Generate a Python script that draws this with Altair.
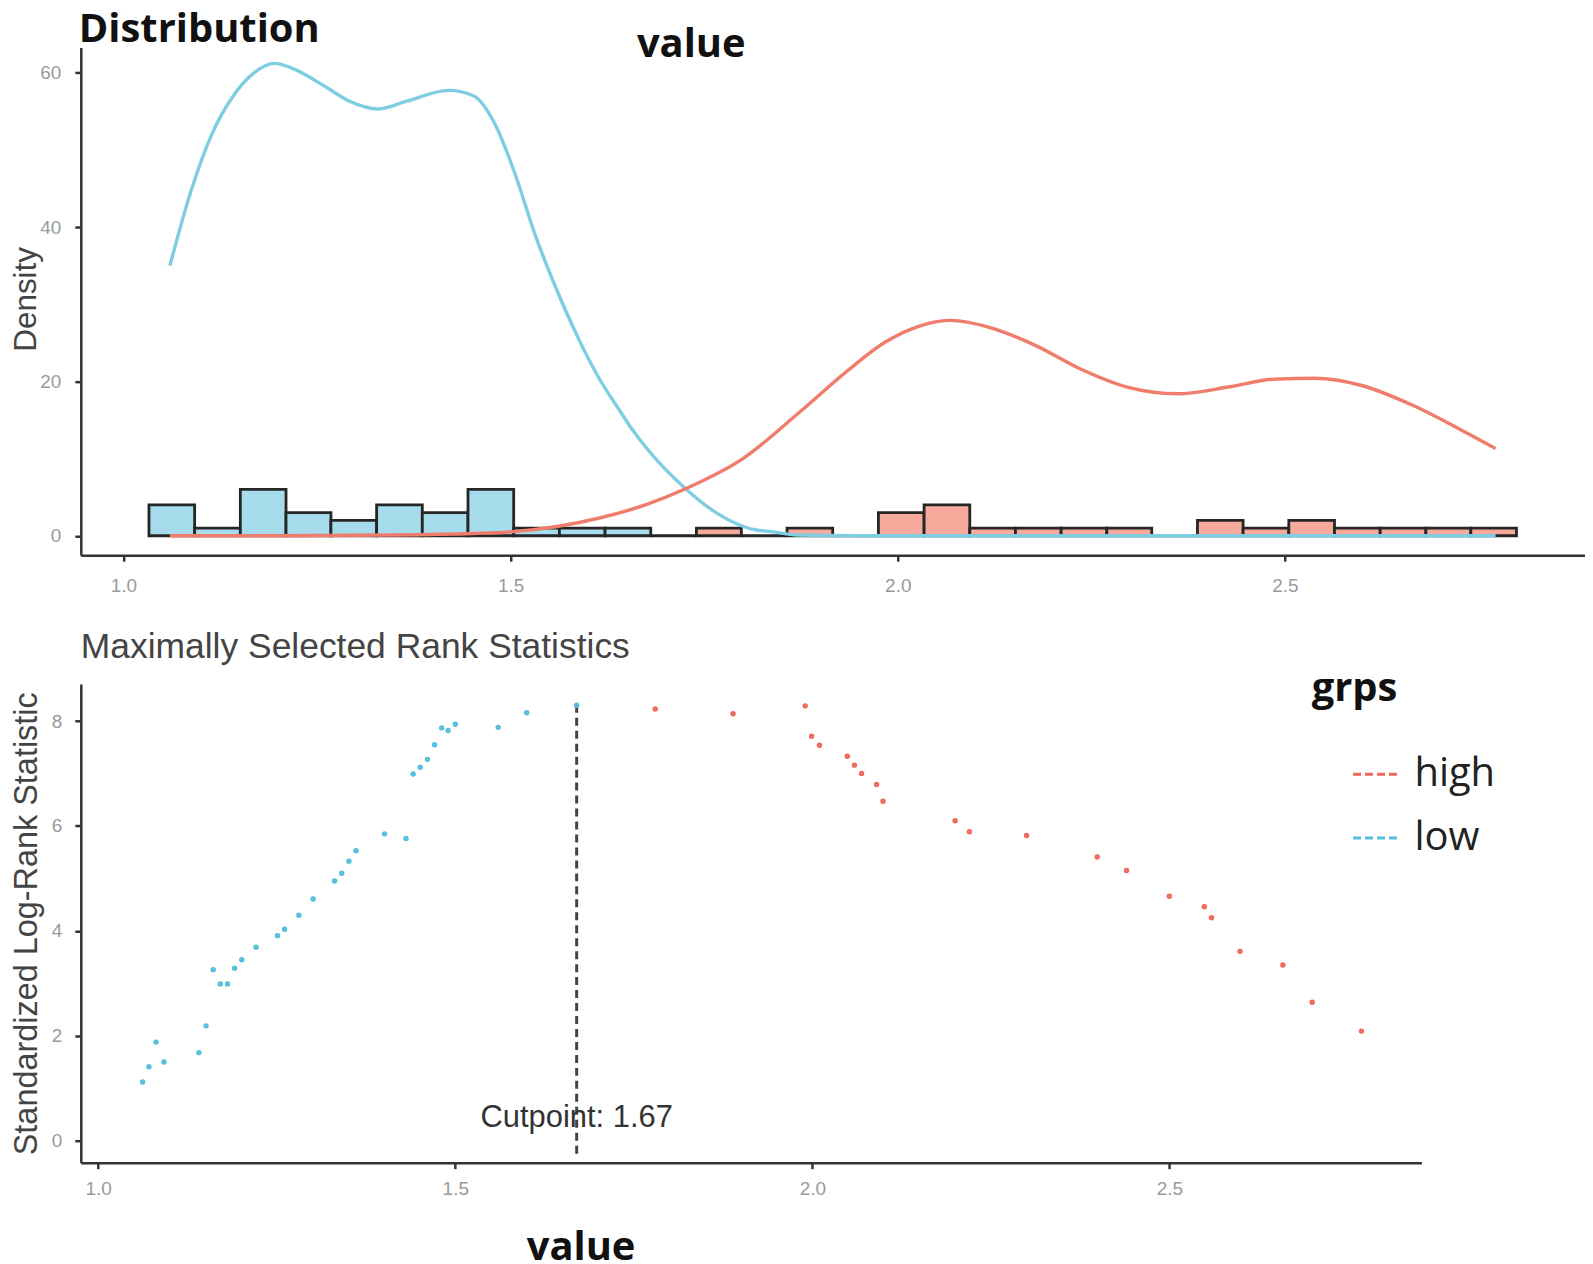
import altair as alt
import pandas as pd

# ---------------- data ----------------
groups = ["high", "low"]

# histogram (top panel)
bin_edges = [1.033, 1.092, 1.151, 1.210, 1.268, 1.327, 1.386, 1.445, 1.504, 1.563,
             1.622, 1.681, 1.740, 1.798, 1.857, 1.916, 1.975, 2.034, 2.093, 2.152,
             2.211, 2.270, 2.328, 2.387, 2.446, 2.505, 2.564, 2.623, 2.682, 2.740, 2.799]
bin_counts = [4, 1, 6, 3, 2, 4, 3, 6, 1, 1, 1, 0, 1, 0, 1, 0, 3, 4, 1, 1,
              1, 1, 0, 2, 1, 2, 1, 1, 1, 1]
bin_groups = ["low"] * 11 + ["high"] * 19

# density curves (top panel)
low_dens_x = [1.060, 1.088, 1.115, 1.142, 1.169, 1.195, 1.222, 1.259, 1.292, 1.329,
              1.366, 1.420, 1.452, 1.479, 1.505, 1.532, 1.559, 1.586, 1.612, 1.639,
              1.659, 1.676, 1.726, 1.770, 1.810, 1.840, 1.870, 1.950, 2.200, 2.500, 2.772]
low_dens_y = [35.0, 44.9, 52.2, 57.0, 60.0, 61.2, 60.4, 58.3, 56.3, 55.3,
              56.3, 57.7, 57.0, 53.5, 47.1, 38.9, 32.0, 25.9, 20.8, 16.5,
              13.5, 11.3, 6.1, 2.7, 0.9, 0.5, 0.1, 0.0, 0.0, 0.0, 0.0]
high_dens_x = [1.060, 1.200, 1.350, 1.450, 1.500, 1.560, 1.615, 1.674, 1.726, 1.800,
               1.873, 1.933, 1.984, 2.029, 2.069, 2.118, 2.177, 2.236, 2.295, 2.362,
               2.428, 2.487, 2.539, 2.598, 2.665, 2.724, 2.772]
high_dens_y = [0.0, 0.0, 0.1, 0.3, 0.5, 1.2, 2.3, 4.0, 6.1, 10.0,
               16.0, 21.2, 25.1, 27.2, 27.9, 27.0, 24.7, 21.6, 19.3, 18.4,
               19.3, 20.3, 20.4, 19.5, 16.9, 13.9, 11.3]

# maximally selected rank statistics (bottom panel)
low_pts_x = [1.062, 1.071, 1.081, 1.092, 1.141, 1.151, 1.161, 1.171, 1.181, 1.191,
             1.201, 1.221, 1.251, 1.261, 1.281, 1.301, 1.331, 1.341, 1.351, 1.361,
             1.401, 1.431, 1.441, 1.451, 1.461, 1.471, 1.481, 1.490, 1.500, 1.560,
             1.600, 1.670]
low_pts_s = [1.12, 1.41, 1.88, 1.50, 1.68, 2.19, 3.26, 2.99, 2.99, 3.29,
             3.45, 3.69, 3.91, 4.03, 4.30, 4.61, 4.95, 5.10, 5.33, 5.53,
             5.85, 5.76, 6.99, 7.12, 7.27, 7.55, 7.87, 7.82, 7.94, 7.88,
             8.16, 8.30]
high_pts_x = [1.780, 1.889, 1.990, 1.999, 2.010, 2.049, 2.059, 2.069, 2.090, 2.099,
              2.200, 2.220, 2.300, 2.399, 2.440, 2.500, 2.549, 2.559, 2.599, 2.659,
              2.700, 2.769]
high_pts_s = [8.23, 8.14, 8.29, 7.71, 7.54, 7.33, 7.16, 7.00, 6.79, 6.47,
              6.10, 5.89, 5.82, 5.41, 5.15, 4.66, 4.46, 4.25, 3.61, 3.35,
              2.64, 2.09]

cutpoint = 1.67
cut_top = 8.31
cut_bottom = -0.25

x_ticks = [1.0, 1.5, 2.0, 2.5]
dens_ticks = [0, 20, 40, 60]
stat_ticks = [0, 2, 4, 6, 8]

# ---------------- tables ----------------
hist = pd.DataFrame({
    "x": bin_edges[:-1], "x2": bin_edges[1:], "count": bin_counts,
    "base": [0] * len(bin_counts), "grp": bin_groups,
})
dens = pd.concat([
    pd.DataFrame({"x": low_dens_x, "d": low_dens_y, "grp": "low"}),
    pd.DataFrame({"x": high_dens_x, "d": high_dens_y, "grp": "high"}),
])
pts = pd.concat([
    pd.DataFrame({"x": high_pts_x, "s": high_pts_s, "grp": "high"}),
    pd.DataFrame({"x": low_pts_x, "s": low_pts_s, "grp": "low"}),
])
cut = pd.DataFrame({"x": [cutpoint], "y": [cut_top], "y2": [cut_bottom],
                    "ty": [0.44], "label": ["Cutpoint: 1.67"]})

# ---------------- styles ----------------
SANS = "Liberation Sans"
HEAD = "Open Sans"
axis_style = dict(domainColor="#333333", domainWidth=2.5, tickColor="#333333",
                  tickWidth=2.5, tickSize=6, labelColor="#9a9a9a", labelFont=SANS,
                  labelFontSize=19, grid=False)

line_scale = alt.Scale(domain=groups, range=["#F07C6C", "#7ECDE2"])
fill_scale = alt.Scale(domain=groups, range=["#F7A99C", "#A6DCEB"])
pt_scale = alt.Scale(domain=groups, range=["#F0685A", "#55BEDD"])

TOP_W, TOP_H = 1508, 509
BOT_W, BOT_H = 1344, 480

xs_top = alt.Scale(domain=[0.945, 2.8875], nice=False, zero=False)
ys_top = alt.Scale(domain=[-2.52, 63.26], nice=False, zero=False)
xs_bot = alt.Scale(domain=[0.9756, 2.853], nice=False, zero=False)
ys_bot = alt.Scale(domain=[-0.418, 8.709], nice=False, zero=False)

x_axis_top = alt.Axis(values=x_ticks, format=".1f", title=None, labelPadding=15, **axis_style)
y_axis_top = alt.Axis(values=dens_ticks, title="Density", titleFont=SANS,
                      titleFontWeight="normal", titleColor="#444444", titleFontSize=31.5,
                      titleAngle=270, titleX=-54, titleY=252, titleBaseline="middle",
                      titleAlign="center", labelPadding=14, **axis_style)

bars = alt.Chart(hist).mark_bar(stroke="#262626", strokeWidth=2.8).encode(
    x=alt.X("x:Q", scale=xs_top, axis=x_axis_top),
    x2="x2:Q",
    y=alt.Y("count:Q", scale=ys_top, axis=y_axis_top),
    y2="base:Q",
    fill=alt.Fill("grp:N", scale=fill_scale, legend=None),
)
lines = alt.Chart(dens).mark_line(strokeWidth=3.4, interpolate="monotone").encode(
    x=alt.X("x:Q", scale=xs_top),
    y=alt.Y("d:Q", scale=ys_top),
    color=alt.Color("grp:N", scale=line_scale, legend=None),
    detail="grp:N",
)
top_title = alt.Chart(pd.DataFrame({"t": ["Distribution"]})).mark_text(
    font=HEAD, fontSize=40, fontWeight="bold", color="#111111", align="left",
    baseline="alphabetic").encode(text="t:N", x=alt.value(-2), y=alt.value(-6))
top_value = alt.Chart(pd.DataFrame({"t": ["value"]})).mark_text(
    font=HEAD, fontSize=40, fontWeight="bold", color="#111111", align="center",
    baseline="middle").encode(text="t:N", x=alt.value(612), y=alt.value(-2))

top = alt.layer(bars, lines, top_title, top_value).properties(width=TOP_W, height=TOP_H)

x_axis_bot = alt.Axis(values=x_ticks, format=".1f", title="value", titleFont=HEAD,
                      titleFontSize=40, titleFontWeight="bold", titleColor="#111111",
                      titleX=501, titleY=97, titleBaseline="alphabetic", titleAlign="center",
                      labelPadding=11, **axis_style)
y_axis_bot = alt.Axis(values=stat_ticks, title="Standardized Log-Rank Statistic",
                      titleFont=SANS, titleFontWeight="normal", titleColor="#444444",
                      titleFontSize=32.5, titleAngle=270, titleX=-54, titleY=240,
                      titleBaseline="middle", titleAlign="center", labelPadding=13,
                      **axis_style)

legend = alt.Legend(title="grps", orient="none", legendX=1234, legendY=-15,
                    titleFont=HEAD, titleFontSize=40, titleFontWeight="bold",
                    titleColor="#111111", labelFont=HEAD, labelFontSize=40,
                    labelColor="#222222", symbolType="stroke", symbolSize=1936,
                    symbolStrokeWidth=3, symbolDash=[8, 4], symbolOffset=40,
                    labelOffset=16, rowPadding=20, titlePadding=42, padding=0)

points = alt.Chart(pts).mark_point(filled=False, size=6, strokeWidth=3, opacity=1).encode(
    x=alt.X("x:Q", scale=xs_bot, axis=x_axis_bot),
    y=alt.Y("s:Q", scale=ys_bot, axis=y_axis_bot),
    color=alt.Color("grp:N", scale=pt_scale, legend=legend),
)
rule = alt.Chart(cut).mark_rule(color="#444444", strokeWidth=3, strokeDash=[8, 5]).encode(
    x=alt.X("x:Q", scale=xs_bot), y=alt.Y("y:Q", scale=ys_bot), y2="y2:Q")
cut_text = alt.Chart(cut).mark_text(font=SANS, fontSize=31, color="#333333",
                                    align="center", baseline="middle").encode(
    x=alt.X("x:Q", scale=xs_bot), y=alt.Y("ty:Q", scale=ys_bot), text="label:N")
bot_title = alt.Chart(pd.DataFrame({"t": ["Maximally Selected Rank Statistics"]})).mark_text(
    font=SANS, fontSize=35.5, color="#444444", align="left", baseline="middle").encode(
    text="t:N", x=alt.value(0), y=alt.value(-37))

bottom = alt.layer(rule, points, cut_text, bot_title).properties(width=BOT_W, height=BOT_H)

chart = alt.vconcat(top, bottom, spacing=35).resolve_scale(
    color="independent", x="independent", y="independent"
).properties(
    padding={"left": 2, "top": 0, "right": 0, "bottom": 0}
).configure(background="white").configure_view(stroke="transparent", strokeWidth=0)

chart.save("out.html", embed_options={"renderer": "svg", "actions": False})
